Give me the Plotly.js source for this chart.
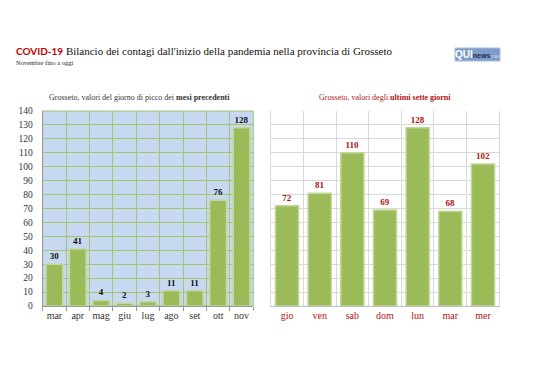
<!DOCTYPE html>
<html>
<head>
<meta charset="utf-8">
<script src="https://cdn.plot.ly/plotly-3.0.1.min.js"></script>
<style>html,body{margin:0;padding:0;background:#fff;}#chart{width:538px;height:380px;}</style>
</head>
<body>
<div id="chart"></div>
<script>
// ---- data ----
const months = ['mar','apr','mag','giu','lug','ago','set','ott','nov'];
const peakValues = [30,41,4,2,3,11,11,76,128];
const days = ['gio','ven','sab','dom','lun','mar','mer'];
const weekValues = [72,81,110,69,128,68,102];
const yTicks = [0,10,20,30,40,50,60,70,80,90,100,110,120,130,140];

const W = 538, H = 380;
const px = x => x / W;
const py = y => 1 - y / H;

const serif = 'Liberation Serif, DejaVu Serif, serif';
const darkRed = '#b01010';
const barColor = '#9bbb59';

const traces = [
  {
    type: 'bar', x: months, y: peakValues, xaxis: 'x', yaxis: 'y',
    marker: {color: barColor, line: {color: '#c4d79b', width: 1.5}},
    text: peakValues.map(v => '<b>' + v + '</b>'),
    textposition: 'outside', cliponaxis: false,
    textfont: {family: serif, size: 9, color: '#111'},
    hoverinfo: 'x+y'
  },
  {
    type: 'bar', x: days, y: weekValues, xaxis: 'x2', yaxis: 'y2',
    marker: {color: barColor, line: {color: '#c4d79b', width: 1.5}},
    text: weekValues.map(v => '<b>' + v + '</b>'),
    textposition: 'outside', cliponaxis: false,
    textfont: {family: serif, size: 9, color: darkRed},
    hoverinfo: 'x+y'
  }
];

const layout = {
  width: W, height: H,
  margin: {l: 0, r: 0, t: 0, b: 0},
  paper_bgcolor: '#fff', plot_bgcolor: 'rgba(0,0,0,0)',
  showlegend: false,
  bargap: 0.29,
  xaxis: {
    domain: [px(42.7), px(253.3)], anchor: 'y',
    type: 'category', tickson: 'boundaries', tickangle: 0,
    showgrid: true, gridcolor: '#a6c370', gridwidth: 1,
    ticks: 'outside', ticklen: 4, tickcolor: '#999',
    showline: true, linecolor: '#999', linewidth: 1,
    tickfont: {family: serif, size: 10, color: '#333'},
    fixedrange: true
  },
  yaxis: {
    domain: [py(306), py(111)], anchor: 'x',
    range: [0, 140], tickvals: yTicks,
    showgrid: true, gridcolor: '#a6c370', gridwidth: 1, zeroline: false,
    showline: true, linecolor: '#999', linewidth: 1,
    ticks: '', ticklabelstandoff: 7,
    tickfont: {family: serif, size: 9.5, color: '#333'},
    fixedrange: true
  },
  xaxis2: {
    domain: [px(270.7), px(499.3)], anchor: 'y2',
    type: 'category', tickson: 'boundaries', tickangle: 0,
    showgrid: true, gridcolor: '#d9d9d9', gridwidth: 1,
    ticks: '', showline: true, linecolor: '#bfbfbf', linewidth: 1,
    tickfont: {family: serif, size: 10, color: darkRed},
    fixedrange: true
  },
  yaxis2: {
    domain: [py(306), py(111)], anchor: 'x2',
    range: [0, 140], tickvals: yTicks,
    showgrid: true, gridcolor: '#d9d9d9', gridwidth: 1, zeroline: false,
    showline: true, linecolor: '#d9d9d9', linewidth: 1, mirror: true,
    showticklabels: false, ticks: '',
    fixedrange: true
  },
  shapes: [
    {type: 'rect', xref: 'x domain', yref: 'y domain', x0: 0, x1: 1, y0: 0, y1: 1,
     fillcolor: '#c6d9f1', line: {color: '#a6c370', width: 1}, layer: 'below'},
    {type: 'rect', xref: 'paper', yref: 'paper', x0: px(455), x1: px(500), y0: py(61), y1: py(48),
     fillcolor: '#7f9cc8', line: {color: '#a9bcd9', width: 1}, layer: 'above'}
  ],
  annotations: [
    {xref: 'paper', yref: 'paper', x: px(14), y: py(51), xanchor: 'left', yanchor: 'middle', showarrow: false,
     text: '<span style="font-family:Lato, sans-serif;font-weight:bold;color:#c00000;font-size:10px">COVID-19</span> Bilancio dei contagi dall\'inizio della pandemia nella provincia di Grosseto',
     font: {family: serif, size: 11, color: '#111'}},
    {xref: 'paper', yref: 'paper', x: px(14), y: py(63), xanchor: 'left', yanchor: 'middle', showarrow: false,
     text: 'Novembre fino a oggi', font: {family: serif, size: 6.5, color: '#222'}},
    {xref: 'paper', yref: 'paper', x: px(139), y: py(97), xanchor: 'center', yanchor: 'middle', showarrow: false,
     text: 'Grosseto, valori del giorno di picco dei <b>mesi precedenti</b>', font: {family: serif, size: 8, color: '#333'}},
    {xref: 'paper', yref: 'paper', x: px(384.5), y: py(97), xanchor: 'center', yanchor: 'middle', showarrow: false,
     text: 'Grosseto, valori degli <b>ultimi sette giorni</b>', font: {family: serif, size: 8, color: darkRed}},
    {xref: 'paper', yref: 'paper', x: px(477.5), y: py(54.5), xanchor: 'center', yanchor: 'middle', showarrow: false,
     text: '<b>QUI</b><span style="color:#1f2f4a;font-size:7px"><b>news</b></span><span style="color:#c8d6ec;font-size:6px">.net</span>',
     font: {family: 'Liberation Sans, sans-serif', size: 10, color: '#ffffff'}}
  ]
};

Plotly.newPlot('chart', traces, layout, {displayModeBar: false, staticPlot: true});
</script>
</body>
</html>
